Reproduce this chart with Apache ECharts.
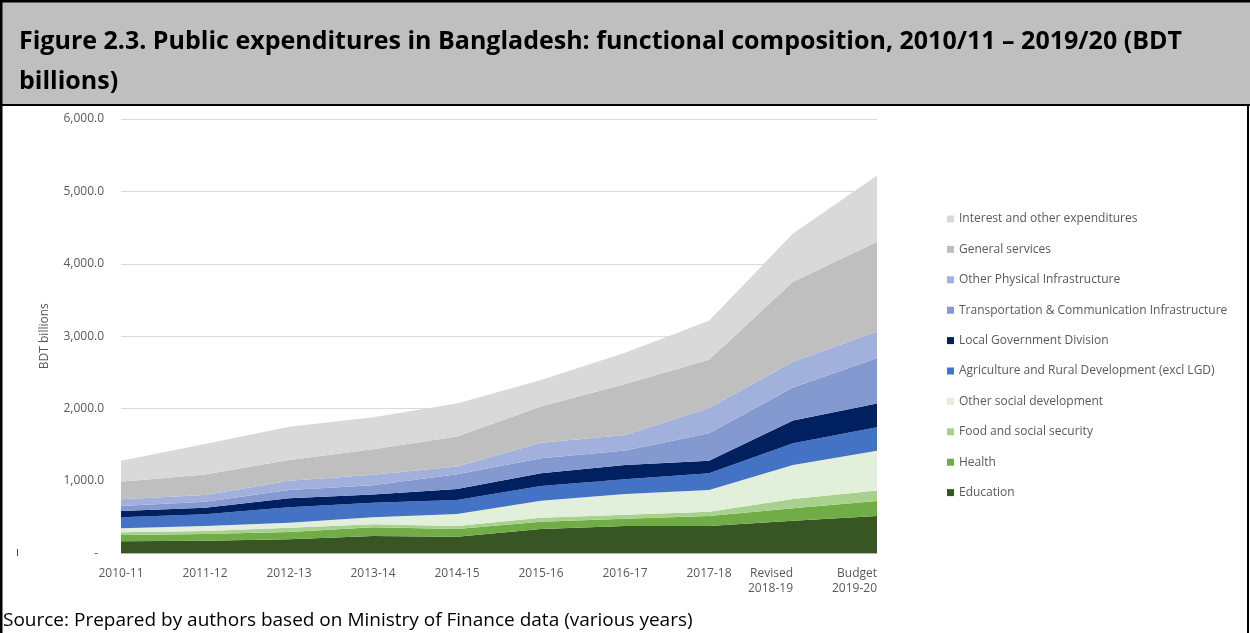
<!DOCTYPE html>
<html>
<head>
<meta charset="utf-8">
<script src="https://cdn.jsdelivr.net/npm/echarts@6/dist/echarts.min.js"></script>
<style>
  html, body { margin: 0; padding: 0; background: #fff; }
  #chart { width: 1250px; height: 633px; }
</style>
</head>
<body>
<div id="chart"></div>
<script>
// Fiscal years on the category axis
const years = ['2010-11', '2011-12', '2012-13', '2013-14', '2014-15', '2015-16', '2016-17', '2017-18', 'Revised\n2018-19', 'Budget\n2019-20'];

// Expenditure by function, BDT billions (stacked bottom to top)
const education      = [167, 175, 195, 240, 231, 337, 378, 378, 451, 516];
const health         = [87, 93, 100, 120, 106, 101, 101, 138, 171, 207];
const foodSocial     = [37, 41, 60, 42, 41, 55, 55, 60, 129, 147];
const otherSocial    = [55, 69, 69, 96, 166, 235, 286, 299, 469, 548];
const agriculture    = [152, 162, 212, 202, 193, 202, 203, 231, 300, 323];
const localGov       = [87, 91, 125, 115, 152, 176, 197, 174, 315, 331];
const transport      = [69, 83, 114, 125, 203, 207, 200, 378, 458, 628];
const otherPhysical  = [93, 92, 129, 145, 108, 217, 215, 352, 354, 365];
const generalServ    = [243, 284, 286, 352, 415, 500, 705, 665, 1104, 1240];
const interestOther  = [290, 420, 460, 443, 455, 365, 430, 540, 669, 915];

// Value-axis ticks
const yTicks = { min: 0, max: 6000, interval: 1000 };

const FONT = 'Open Sans';
const GREY_TEXT = '#595959';

const layers = [
  { name: 'Education', data: education, color: '#375623' },
  { name: 'Health', data: health, color: '#70AD47' },
  { name: 'Food and social security', data: foodSocial, color: '#A9D18E' },
  { name: 'Other social development', data: otherSocial, color: '#E2EFDA' },
  { name: 'Agriculture and Rural Development (excl LGD)', data: agriculture, color: '#4472C4' },
  { name: 'Local Government Division', data: localGov, color: '#002060' },
  { name: 'Transportation & Communication Infrastructure', data: transport, color: '#8499D0' },
  { name: 'Other Physical Infrastructure', data: otherPhysical, color: '#A2B1DB' },
  { name: 'General services', data: generalServ, color: '#BFBFBF' },
  { name: 'Interest and other expenditures', data: interestOther, color: '#D9D9D9' }
];

function fmt(v) {
  if (v === 0) return '-\u2002';
  const s = Math.round(v).toString().replace(/\B(?=(\d{3})+(?!\d))/g, ',');
  return s + '.0';
}

// The two projected years hang their labels to the left of the tick
const categoryData = years.map(function (y) {
  return y.indexOf('\n') >= 0 ? { value: y, textStyle: { align: 'right' } } : y;
});

const chart = echarts.init(document.getElementById('chart'), null, { renderer: 'canvas' });

chart.setOption({
  animation: false,
  backgroundColor: '#ffffff',
  textStyle: { fontFamily: FONT },
  graphic: [
    // caption box
    { type: 'rect', z: 0, shape: { x: 0, y: 0, width: 1250, height: 105 }, style: { fill: '#BFBFBF' } },
    { type: 'rect', z: 1, shape: { x: 0, y: 0, width: 1250, height: 2.5 }, style: { fill: '#000' } },
    { type: 'rect', z: 1, shape: { x: 0, y: 0, width: 2.5, height: 633 }, style: { fill: '#000' } },
    { type: 'rect', z: 1, shape: { x: 0, y: 104, width: 1250, height: 2 }, style: { fill: '#000' } },
    { type: 'rect', z: 1, shape: { x: 1247, y: 104, width: 2, height: 529 }, style: { fill: '#000' } },
    {
      type: 'text', z: 2, left: 19, top: 22,
      style: {
        text: 'Figure 2.3. Public expenditures in Bangladesh: functional composition, 2010/11 \u2013 2019/20 (BDT\nbillions)',
        font: 'bold 25px "Open Sans"', fill: '#000', lineHeight: 40
      }
    },
    {
      type: 'text', z: 2, left: 3, top: 611,
      style: {
        text: 'Source: Prepared by authors based on Ministry of Finance data (various years)',
        font: '19px "Open Sans"', fill: '#000'
      }
    },
    { type: 'line', z: 2, shape: { x1: 17.5, y1: 549, x2: 17.5, y2: 556 }, style: { stroke: '#444', lineWidth: 1 } }
  ],
  legend: {
    orient: 'vertical',
    left: 947,
    top: 212,
    padding: 0,
    itemWidth: 7,
    itemHeight: 7,
    itemGap: 16.4,
    icon: 'rect',
    textStyle: { fontFamily: FONT, fontSize: 12, color: GREY_TEXT, lineHeight: 14 },
    data: layers.slice().reverse().map(function (l) { return l.name; })
  },
  grid: { left: 121, right: 373, top: 119, bottom: 79.6, containLabel: false },
  xAxis: {
    type: 'category',
    boundaryGap: false,
    data: categoryData,
    axisLine: { show: true, lineStyle: { color: '#D9D9D9', width: 1 } },
    axisTick: { show: false },
    axisLabel: { color: GREY_TEXT, fontSize: 12, fontFamily: FONT, margin: 13, lineHeight: 15, interval: 0 },
    splitLine: { show: false }
  },
  yAxis: {
    type: 'value',
    min: yTicks.min, max: yTicks.max, interval: yTicks.interval,
    name: 'BDT billions',
    nameLocation: 'middle',
    nameGap: 70,
    nameRotate: 90,
    nameTextStyle: { color: GREY_TEXT, fontSize: 12, fontFamily: FONT },
    axisLine: { show: false },
    axisTick: { show: false },
    axisLabel: { color: GREY_TEXT, fontSize: 12, fontFamily: FONT, margin: 17, formatter: fmt },
    splitLine: { lineStyle: { color: '#D9D9D9', width: 1 } }
  },
  series: layers.map(function (l) {
    return {
      name: l.name,
      type: 'line',
      stack: 'total',
      data: l.data,
      symbol: 'none',
      showSymbol: false,
      lineStyle: { width: 0 },
      itemStyle: { color: l.color },
      areaStyle: { color: l.color, opacity: 1 },
      emphasis: { disabled: true }
    };
  })
});
</script>
</body>
</html>
